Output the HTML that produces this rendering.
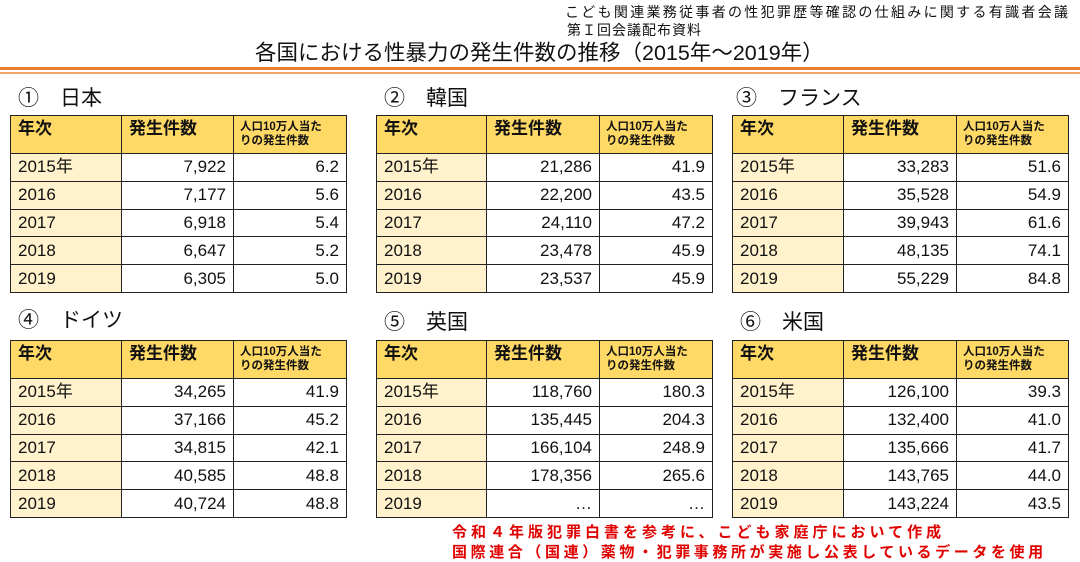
<!DOCTYPE html>
<html><head><meta charset="utf-8"><style>
body{margin:0;width:1080px;height:562px;background:#fff;position:relative;overflow:hidden;font-family:"Liberation Sans","Noto Sans CJK JP",sans-serif;color:#111}
.a{position:absolute;white-space:nowrap}
.t{position:absolute;border-collapse:collapse;table-layout:fixed}
.t td{border:1.5px solid #222;padding:0 7px;font-size:17px;height:26.8px;line-height:20px}
.t tr.h td{background:#FFD966;height:33px;vertical-align:top;font-weight:bold;padding-top:3px}
.t tr.h td.s{font-size:11.5px;line-height:14px;padding-top:4px;padding-left:6px}
.t td.y{background:#FFF2CC}
.t td.n{text-align:right}
.sec{position:absolute;font-size:21px;white-space:nowrap}
</style></head><body>
<div class="a" style="left:565px;top:2px;font-size:14px;letter-spacing:2.3px">こども関連業務従事者の性犯罪歴等確認の仕組みに関する有識者会議</div>
<div class="a" style="left:567px;top:20px;font-size:14px;letter-spacing:1px">第Ｉ回会議配布資料</div>
<div class="a" style="left:255px;top:36px;font-size:21.5px">各国における性暴力の発生件数の推移（2015年～2019年）</div>
<div class="a" style="left:0;top:67px;width:1080px;height:3px;background:#ED7D31"></div>
<div class="a" style="left:0;top:72px;width:1080px;height:2px;background:#F4A46A"></div>

<div class="sec" style="left:18px;top:82px">①　日本</div>
<div class="sec" style="left:384px;top:82px">②　韓国</div>
<div class="sec" style="left:736px;top:82px">③　フランス</div>
<div class="sec" style="left:18px;top:304px">④　ドイツ</div>
<div class="sec" style="left:384px;top:306px">⑤　英国</div>
<div class="sec" style="left:740px;top:306px">⑥　米国</div>

<table class="t" style="left:10px;top:115px;width:336px"><colgroup><col style="width:111px"><col style="width:112px"><col style="width:113px"></colgroup>
<tr class="h"><td>年次</td><td>発生件数</td><td class="s">人口10万人当た<br>りの発生件数</td></tr>
<tr><td class="y">2015年</td><td class="n">7,922</td><td class="n">6.2</td></tr>
<tr><td class="y">2016</td><td class="n">7,177</td><td class="n">5.6</td></tr>
<tr><td class="y">2017</td><td class="n">6,918</td><td class="n">5.4</td></tr>
<tr><td class="y">2018</td><td class="n">6,647</td><td class="n">5.2</td></tr>
<tr><td class="y">2019</td><td class="n">6,305</td><td class="n">5.0</td></tr></table>

<table class="t" style="left:376px;top:115px;width:336px"><colgroup><col style="width:110px"><col style="width:113px"><col style="width:113px"></colgroup>
<tr class="h"><td>年次</td><td>発生件数</td><td class="s">人口10万人当た<br>りの発生件数</td></tr>
<tr><td class="y">2015年</td><td class="n">21,286</td><td class="n">41.9</td></tr>
<tr><td class="y">2016</td><td class="n">22,200</td><td class="n">43.5</td></tr>
<tr><td class="y">2017</td><td class="n">24,110</td><td class="n">47.2</td></tr>
<tr><td class="y">2018</td><td class="n">23,478</td><td class="n">45.9</td></tr>
<tr><td class="y">2019</td><td class="n">23,537</td><td class="n">45.9</td></tr></table>

<table class="t" style="left:732px;top:115px;width:336px"><colgroup><col style="width:111px"><col style="width:113px"><col style="width:112px"></colgroup>
<tr class="h"><td>年次</td><td>発生件数</td><td class="s">人口10万人当た<br>りの発生件数</td></tr>
<tr><td class="y">2015年</td><td class="n">33,283</td><td class="n">51.6</td></tr>
<tr><td class="y">2016</td><td class="n">35,528</td><td class="n">54.9</td></tr>
<tr><td class="y">2017</td><td class="n">39,943</td><td class="n">61.6</td></tr>
<tr><td class="y">2018</td><td class="n">48,135</td><td class="n">74.1</td></tr>
<tr><td class="y">2019</td><td class="n">55,229</td><td class="n">84.8</td></tr></table>

<table class="t" style="left:10px;top:340px;width:336px"><colgroup><col style="width:111px"><col style="width:112px"><col style="width:113px"></colgroup>
<tr class="h"><td>年次</td><td>発生件数</td><td class="s">人口10万人当た<br>りの発生件数</td></tr>
<tr><td class="y">2015年</td><td class="n">34,265</td><td class="n">41.9</td></tr>
<tr><td class="y">2016</td><td class="n">37,166</td><td class="n">45.2</td></tr>
<tr><td class="y">2017</td><td class="n">34,815</td><td class="n">42.1</td></tr>
<tr><td class="y">2018</td><td class="n">40,585</td><td class="n">48.8</td></tr>
<tr><td class="y">2019</td><td class="n">40,724</td><td class="n">48.8</td></tr></table>

<table class="t" style="left:376px;top:340px;width:336px"><colgroup><col style="width:110px"><col style="width:113px"><col style="width:113px"></colgroup>
<tr class="h"><td>年次</td><td>発生件数</td><td class="s">人口10万人当た<br>りの発生件数</td></tr>
<tr><td class="y">2015年</td><td class="n">118,760</td><td class="n">180.3</td></tr>
<tr><td class="y">2016</td><td class="n">135,445</td><td class="n">204.3</td></tr>
<tr><td class="y">2017</td><td class="n">166,104</td><td class="n">248.9</td></tr>
<tr><td class="y">2018</td><td class="n">178,356</td><td class="n">265.6</td></tr>
<tr><td class="y">2019</td><td class="n">…</td><td class="n">…</td></tr></table>

<table class="t" style="left:732px;top:340px;width:336px"><colgroup><col style="width:111px"><col style="width:113px"><col style="width:112px"></colgroup>
<tr class="h"><td>年次</td><td>発生件数</td><td class="s">人口10万人当た<br>りの発生件数</td></tr>
<tr><td class="y">2015年</td><td class="n">126,100</td><td class="n">39.3</td></tr>
<tr><td class="y">2016</td><td class="n">132,400</td><td class="n">41.0</td></tr>
<tr><td class="y">2017</td><td class="n">135,666</td><td class="n">41.7</td></tr>
<tr><td class="y">2018</td><td class="n">143,765</td><td class="n">44.0</td></tr>
<tr><td class="y">2019</td><td class="n">143,224</td><td class="n">43.5</td></tr></table>

<div class="a" style="left:452px;top:521px;font-size:15px;font-weight:bold;color:#E00000;letter-spacing:4px">令和４年版犯罪白書を参考に、こども家庭庁において作成</div>
<div class="a" style="left:452px;top:541px;font-size:15px;font-weight:bold;color:#E00000;letter-spacing:3.6px">国際連合（国連）薬物・犯罪事務所が実施し公表しているデータを使用</div>
</body></html>
